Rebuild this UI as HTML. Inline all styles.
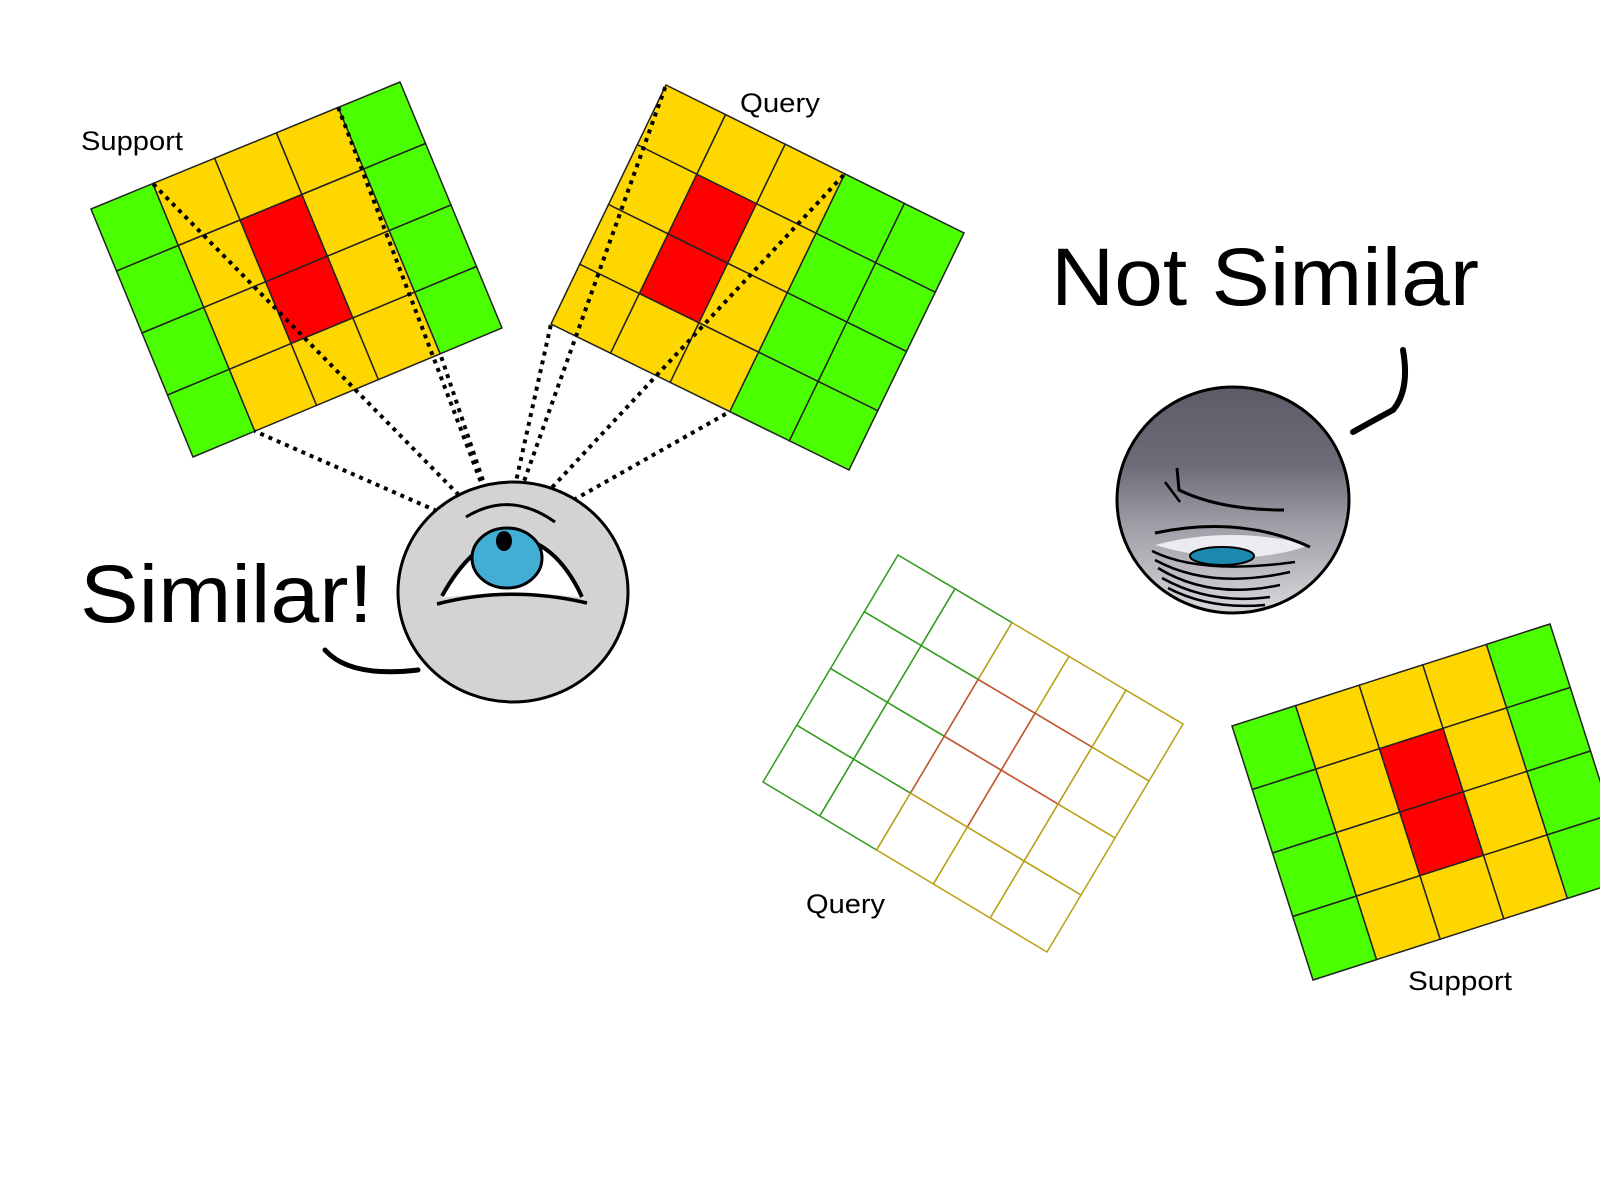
<!DOCTYPE html>
<html><head><meta charset="utf-8"><style>
html,body{margin:0;padding:0;background:#fff;}
svg{display:block;}
text{font-family:"Liberation Sans","DejaVu Sans",sans-serif;fill:#000;}
</style></head>
<body>
<svg id="s" width="1600" height="1200" viewBox="0 0 1600 1200" xmlns="http://www.w3.org/2000/svg">
<defs>
<linearGradient id="g2" x1="0" y1="0" x2="0" y2="1">
<stop offset="0" stop-color="#5e5a68"/><stop offset="0.35" stop-color="#6f6b78"/><stop offset="0.6" stop-color="#9e9ba4"/><stop offset="1" stop-color="#d8d8dc"/>
</linearGradient>
</defs>
<g id="grids"></g>
<g id="dots"></g>

<text x="81" y="150" font-size="27" textLength="102" lengthAdjust="spacingAndGlyphs">Support</text>
<text x="740" y="112" font-size="27" textLength="80" lengthAdjust="spacingAndGlyphs">Query</text>
<text x="1051" y="305" font-size="82" textLength="428" lengthAdjust="spacingAndGlyphs">Not Similar</text>
<text x="80" y="622" font-size="82" textLength="293" lengthAdjust="spacingAndGlyphs">Similar!</text>
<text x="806" y="913" font-size="27" textLength="79" lengthAdjust="spacingAndGlyphs">Query</text>
<text x="1408" y="990" font-size="27" textLength="104" lengthAdjust="spacingAndGlyphs">Support</text>

<g>
<ellipse cx="513" cy="592" rx="115" ry="110" fill="#d3d3d3" stroke="#000" stroke-width="3"/>
<path d="M442,598 Q470,545 507,538 Q555,540 585,598 Q510,588 442,598Z" fill="#fff"/>
<path d="M442,596 Q470,545 507,536 Q555,538 582,597" fill="none" stroke="#000" stroke-width="4"/>
<ellipse cx="507" cy="558" rx="35" ry="30" fill="#42aed3" stroke="#000" stroke-width="3"/>
<ellipse cx="504" cy="541" rx="8" ry="10" fill="#000"/>
<path d="M437,604 Q510,585 587,603" fill="none" stroke="#000" stroke-width="3.5"/>
<path d="M466,517 Q510,490 555,522" fill="none" stroke="#000" stroke-width="3"/>
<path d="M325,650 Q350,678 418,670" fill="none" stroke="#000" stroke-width="5" stroke-linecap="round"/>
</g>

<g>
<ellipse cx="1233" cy="500" rx="116" ry="113" fill="url(#g2)" stroke="#000" stroke-width="3"/>
<path d="M1155,545 Q1230,525 1310,545 Q1240,570 1155,545Z" fill="#ececf0"/>
<path d="M1155,533 Q1240,515 1310,547" fill="none" stroke="#000" stroke-width="3"/>
<ellipse cx="1222" cy="556" rx="32" ry="9" fill="#1b88b0" stroke="#000" stroke-width="2"/>
<path d="M1177,468 L1179,490 Q1220,510 1284,510" fill="none" stroke="#000" stroke-width="3"/>
<path d="M1165,482 L1180,502" fill="none" stroke="#000" stroke-width="2.5"/>
<path d="M1152,551 Q1200,575 1295,562 M1155,560 Q1210,590 1290,572 M1158,568 Q1210,600 1280,585 M1162,578 Q1210,605 1270,597 M1168,588 Q1210,610 1265,605" fill="none" stroke="#000" stroke-width="2.5"/>
<path d="M1353,432 Q1378,418 1393,410 Q1410,390 1403,350" fill="none" stroke="#000" stroke-width="6" stroke-linecap="round"/>
</g>
</svg>
<script>
const NS="http://www.w3.org/2000/svg";
// grid colour layouts (rows x cols): g=green, y=yellow, r=red, w=white
const supportPattern=["gyyyg","gyryg","gyryg","gyyyg"];
const queryPattern=["yyygg","yrygg","yrygg","yyygg"];
const blankPattern=["wwwww","wwwww","wwwww","wwwww"];
const colors={g:"#4cff00",y:"#ffd700",r:"#ff0000",w:"#ffffff"};
function lerp(a,b,t){return [a[0]+(b[0]-a[0])*t,a[1]+(b[1]-a[1])*t];}
function pt(c,u,v){const top=lerp(c[0],c[1],u),bot=lerp(c[3],c[2],u);return lerp(top,bot,v);}
function grid(name,c,pat,lineFn){
  const g=document.createElementNS(NS,"g");
  
  
  const R=pat.length,C=pat[0].length;
  for(let r=0;r<R;r++)for(let k=0;k<C;k++){
    const p=[pt(c,k/C,r/R),pt(c,(k+1)/C,r/R),pt(c,(k+1)/C,(r+1)/R),pt(c,k/C,(r+1)/R)];
    const e=document.createElementNS(NS,"polygon");
    
    
    e.setAttribute("points",p.map(q=>q.join(",")).join(" "));
    e.setAttribute("fill",colors[pat[r][k]]);
    const lc=lineFn?lineFn(r,k):"#222";
    e.setAttribute("stroke",lc);e.setAttribute("stroke-width","1.5");
    g.appendChild(e);
  }
  document.getElementById("grids").appendChild(g);
}
const S1=[[91,209],[400,82],[502,328],[193,457]];
const Q1=[[666,85],[964,233],[849,470],[551,324]];
const Q2=[[898,555],[1183,724],[1047,952],[763,782]];
const S2=[[1232,726],[1550,624],[1631,878],[1313,980]];
grid("support-grid-top",S1,supportPattern);
grid("query-grid-top",Q1,queryPattern);
grid("query-grid-blank",Q2,blankPattern,(r,k)=>k<2?"#2f9a1a":((r==1||r==2)&&(k==2||k==3)?"#c0502a":"#b8a010"));
grid("support-grid-bottom",S2,supportPattern);
const eye=[503,540];
const targets=[pt(S1,0.2,0),pt(S1,0.2,1),pt(S1,0.8,0),pt(S1,0.8,1),pt(Q1,0,0),pt(Q1,0,1),pt(Q1,0.6,0),pt(Q1,0.6,1)];
targets.forEach(t=>{
  const l=document.createElementNS(NS,"line");
  
  
  l.setAttribute("x1",eye[0]);l.setAttribute("y1",eye[1]);l.setAttribute("x2",t[0]);l.setAttribute("y2",t[1]);
  l.setAttribute("stroke","#000");l.setAttribute("stroke-width","4");l.setAttribute("stroke-dasharray","4 5");
  document.getElementById("dots").appendChild(l);
});
</script>
</body></html>
